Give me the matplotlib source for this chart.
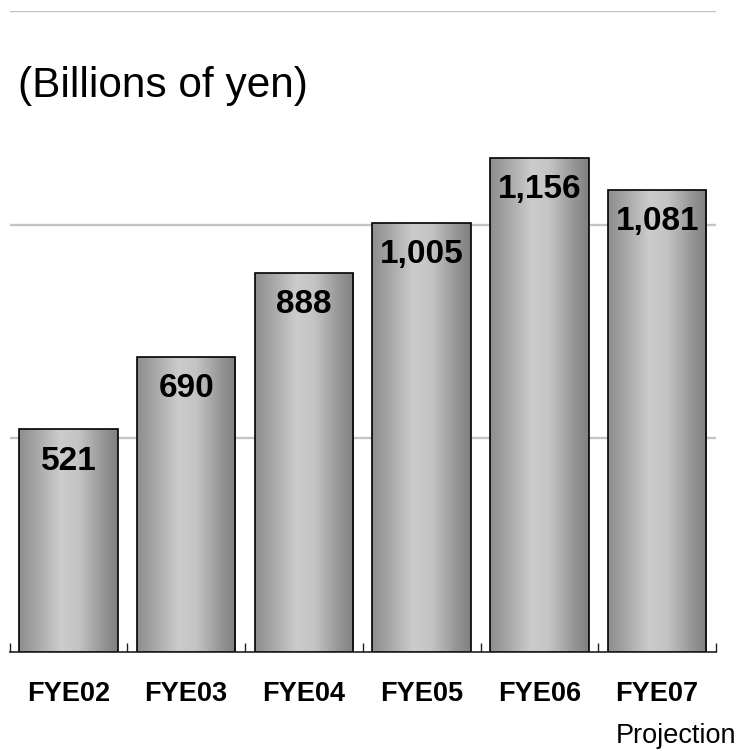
import numpy as np
import matplotlib
matplotlib.use("Agg")
import matplotlib.pyplot as plt
from matplotlib.ticker import FixedLocator

plt.rcParams["font.family"] = ["Liberation Sans", "DejaVu Sans"]

# net sales by fiscal year (billions of yen), FYE07 is a projection
years = ["FYE02", "FYE03", "FYE04", "FYE05", "FYE06", "FYE07"]
sales = [521, 690, 888, 1005, 1156, 1081]
value_labels = ["521", "690", "888", "1,005", "1,156", "1,081"]

W, H = 740, 751
fig = plt.figure(figsize=(W / 100, H / 100), dpi=100)
ax = fig.add_axes([9.5 / W, (H - 652) / H, (716 - 9.5) / W, (652 - 11) / H])

x = np.arange(len(years))
bars = ax.bar(x, sales, width=0.835, facecolor="none", edgecolor="black",
              linewidth=1.2, zorder=3)

ax.set_xlim(-0.5, len(years) - 0.5)
ax.set_ylim(0, 1500)

# metallic shading across each bar, clipped to the bar outline
stops = [0.0, 0.12, 0.42, 0.6, 0.85, 1.0]
greys = [0x8e, 0x9e, 0xcc, 0xc4, 0x96, 0x80]
u = np.linspace(0, 1, 256)
shade = np.interp(u, stops, greys) / 255.0
grad = np.dstack([shade, shade, shade]).repeat(2, axis=0)
for b in bars:
    x0, w, h = b.get_x(), b.get_width(), b.get_height()
    im = ax.imshow(grad, extent=(x0, x0 + w, 0, h), aspect="auto",
                   origin="lower", zorder=2, interpolation="bilinear")
    im.set_clip_path(b)

for xi, v, lab in zip(x, sales, value_labels):
    ax.annotate(lab, (xi, v), xytext=(0, -29), textcoords="offset points",
                ha="center", va="baseline", fontsize=24, fontweight="bold",
                zorder=4)

ax.set_yticks([500, 1000, 1500])
ax.yaxis.grid(True, color="#c4c4c4", linewidth=1.7, zorder=0)
ax.tick_params(axis="y", left=False, labelleft=False)

ax.set_xticks(x)
ax.set_xticklabels(years, fontsize=19.5, fontweight="bold")
ax.xaxis.set_minor_locator(FixedLocator(np.arange(-0.5, len(years), 1.0)))
ax.tick_params(axis="x", which="major", length=0, pad=21)
ax.tick_params(axis="x", which="minor", direction="in", length=6.5,
               width=1.0, color="#202020")

for s in ["top", "left", "right"]:
    ax.spines[s].set_visible(False)
ax.spines["bottom"].set_linewidth(1.2)
ax.spines["bottom"].set_color("#202020")
ax.spines["bottom"].set_zorder(5)

fig.text(18 / W, 1 - 97 / H, "(Billions of yen)", fontsize=30.5,
         ha="left", va="baseline")
fig.text(736 / W, 1 - 743 / H, "Projection", fontsize=19.5,
         ha="right", va="baseline")

fig.savefig("out.png", dpi=100)
